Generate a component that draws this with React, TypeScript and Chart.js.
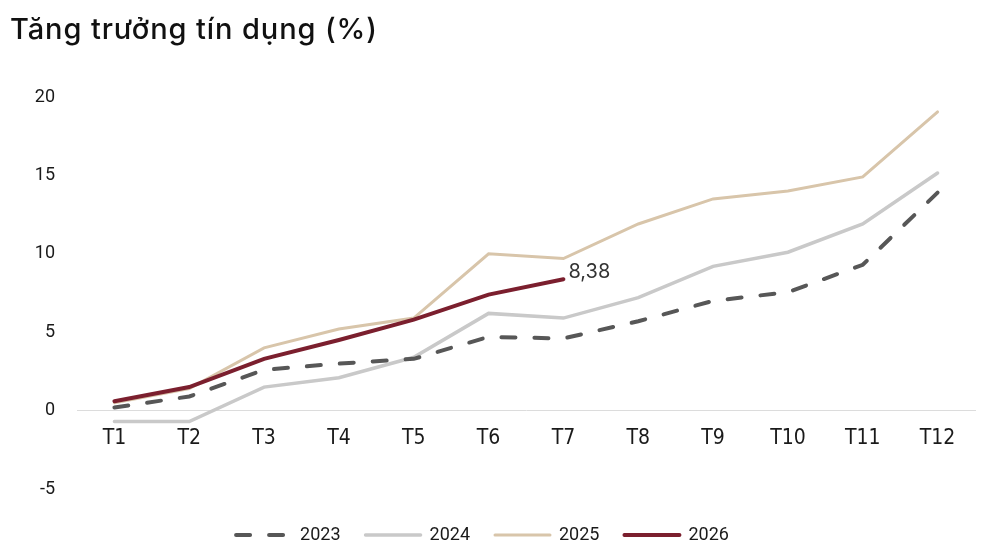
import { useEffect, useRef } from "react";
import { Chart, registerables, Plugin } from "chart.js";

Chart.register(...registerables);

// Data
const months = ["T1", "T2", "T3", "T4", "T5", "T6", "T7", "T8", "T9", "T10", "T11", "T12"];
const growth2023 = [0.2, 0.9, 2.6, 3.0, 3.3, 4.7, 4.6, 5.7, 7.0, 7.55, 9.3, 13.9];
const growth2024 = [-0.7, -0.7, 1.5, 2.1, 3.4, 6.2, 5.9, 7.2, 9.2, 10.1, 11.9, 15.15];
const growth2025 = [0.5, 1.4, 4.0, 5.2, 5.9, 10.0, 9.7, 11.9, 13.5, 14.0, 14.9, 19.05];
const growth2026 = [0.6, 1.5, 3.3, 4.5, 5.8, 7.4, 8.38];
const yTicks = [-5, 0, 5, 10, 15, 20];
const chartTitle = "Tăng trưởng tín dụng (%)";

const narrow = "'Liberation Sans Narrow', 'DejaVu Sans Condensed', Roboto, sans-serif";

// writes the last 2026 value next to the end of its line
const endLabel: Plugin<"line"> = {
  id: "endLabel",
  afterDatasetsDraw(chart) {
    const idx = 3;
    const meta = chart.getDatasetMeta(idx);
    const data = chart.data.datasets[idx].data as number[];
    const last = meta.data[data.length - 1];
    if (!last) return;
    const ctx = chart.ctx;
    ctx.save();
    ctx.font = "20px Inter";
    ctx.fillStyle = "#333";
    ctx.textAlign = "left";
    ctx.textBaseline = "middle";
    ctx.fillText(String(data[data.length - 1]).replace(".", ","), last.x + 5, last.y - 7);
    ctx.restore();
  },
};

// the legend in the picture sits a bit lower and more to the left than chart.js puts it
const legendNudge: Plugin<"line"> = {
  id: "legendNudge",
  afterLayout(chart) {
    const lg = chart.legend;
    if (!lg) return;
    lg.top += 12;
    lg.bottom += 12;
    lg.left -= 10;
    lg.right -= 10;
  },
};

function createChart(canvas: HTMLCanvasElement): Chart {
  return new Chart(canvas, {
    type: "line",
    data: {
      labels: months,
      datasets: [
        {
          label: "2023",
          data: growth2023,
          borderColor: "#575757",
          backgroundColor: "#575757",
          borderWidth: 4,
          borderDash: [14, 19],
          borderCapStyle: "round",
          order: 2,
        },
        {
          label: "2024",
          data: growth2024,
          borderColor: "#c9c9c9",
          backgroundColor: "#c9c9c9",
          borderWidth: 3.5,
          borderCapStyle: "round",
          order: 3,
        },
        {
          label: "2025",
          data: growth2025,
          borderColor: "#d8c5aa",
          backgroundColor: "#d8c5aa",
          borderWidth: 3,
          borderCapStyle: "round",
          order: 1,
        },
        {
          label: "2026",
          data: growth2026,
          borderColor: "#7b1f2e",
          backgroundColor: "#7b1f2e",
          borderWidth: 4,
          borderCapStyle: "round",
          order: 0,
        },
      ],
    },
    options: {
      animation: false,
      responsive: true,
      maintainAspectRatio: false,
      layout: { padding: { top: 97, left: 10, right: 25, bottom: 12 } },
      elements: { point: { radius: 0 }, line: { tension: 0 } },
      scales: {
        x: {
          position: { y: 0 },
          offset: true,
          grid: { display: false, drawTicks: false },
          border: { display: true, color: "#dcdcdc", width: 1 },
          ticks: { color: "#1a1a1a", font: { family: narrow, size: 21 }, padding: 15, maxRotation: 0 },
        },
        y: {
          min: -5,
          max: 20,
          grid: { display: false, drawTicks: false },
          border: { display: false },
          afterBuildTicks: (scale) => {
            scale.ticks = yTicks.map((v) => ({ value: v }));
          },
          afterFit: (scale) => {
            scale.width = 67;
          },
          ticks: { color: "#1a1a1a", font: { family: "Roboto", size: 18 }, padding: 22 },
        },
      },
      plugins: {
        title: { display: false },
        legend: {
          position: "bottom",
          labels: {
            usePointStyle: true,
            pointStyle: "line",
            pointStyleWidth: 55,
            boxHeight: 18,
            padding: 25,
            color: "#1a1a1a",
            font: { family: "Roboto", size: 18 },
            sort: (a, b) => (a.datasetIndex ?? 0) - (b.datasetIndex ?? 0),
            generateLabels: (chart) => {
              const items = Chart.defaults.plugins.legend.labels.generateLabels(chart);
              return items.map((it) => {
                const ds: any = chart.data.datasets[it.datasetIndex ?? 0];
                return {
                  ...it,
                  lineDash: ds.borderDash || [],
                  lineWidth: ds.borderWidth,
                  strokeStyle: ds.borderColor,
                  fillStyle: ds.borderColor,
                  lineCap: "round",
                };
              });
            },
          },
        },
        tooltip: { enabled: false },
      },
    },
    plugins: [endLabel, legendNudge],
  });
}

export default function App() {
  const canvasRef = useRef<HTMLCanvasElement>(null);

  useEffect(() => {
    document.body.style.margin = "0";
    const chart = createChart(canvasRef.current!);
    return () => {
      chart.destroy();
    };
  }, []);

  return (
    <div style={{ position: "absolute", left: 0, top: 0, width: 1000, height: 554, background: "#fff" }}>
      <div
        style={{
          position: "absolute",
          left: 10,
          top: 11,
          font: "500 29px Inter, sans-serif",
          lineHeight: "36px",
          letterSpacing: "0.9px",
          color: "#111",
          whiteSpace: "nowrap",
        }}
      >
        {chartTitle}
      </div>
      <canvas ref={canvasRef} />
    </div>
  );
}
